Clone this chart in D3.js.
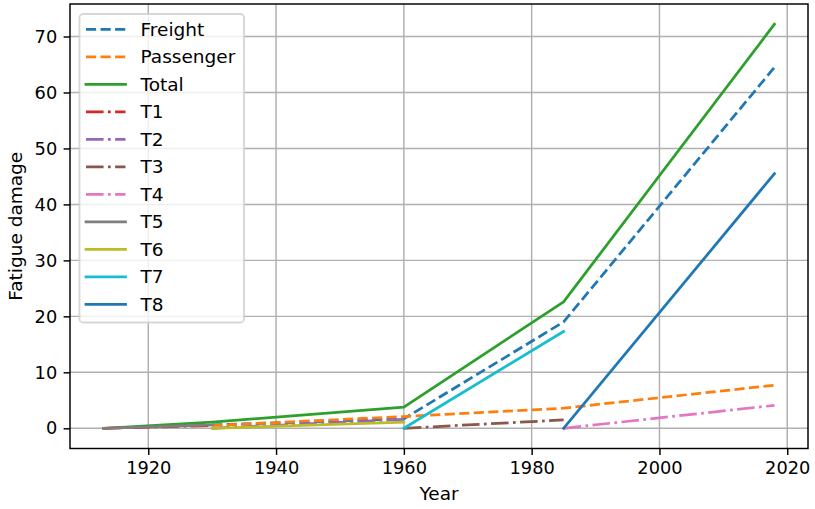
<!DOCTYPE html>
<html>
<head>
<meta charset="utf-8">
<script src="https://cdn.jsdelivr.net/npm/d3@7"></script>
<style>
  html, body { margin: 0; padding: 0; background: #fff; }
  svg { display: block; font-family: "DejaVu Sans", sans-serif; }
</style>
</head>
<body>
<svg id="chart" width="815" height="509"></svg>
<script>
// Survey years
const years = [1913, 1930, 1960, 1985, 2018];

// Cumulative fatigue damage (null = no value for that year)
const freight   = [null, 0.6, 1.7, 19.0, 64.5];
const passenger = [null, 0.5, 2.1, 3.6, 7.7];
const total     = [0.0, 1.1, 3.8, 22.6, 72.2];

// Contribution of each train type over its period of service
const t1 = [0.0, 0.5, null, null, null];
const t2 = [null, 0.0, 1.6, null, null];
const t3 = [null, null, 0.0, 1.5, null];
const t4 = [null, null, null, 0.0, 4.1];
const t5 = [0.0, 0.6, null, null, null];
const t6 = [null, 0.0, 1.1, null, null];
const t7 = [null, null, 0.0, 17.3, null];
const t8 = [null, null, null, 0.0, 45.5];

const xTicks = [1920, 1940, 1960, 1980, 2000, 2020];
const yTicks = [0, 10, 20, 30, 40, 50, 60, 70];

const PT = 1.83; // pixels per point
const DASHED = [5.55 * PT, 2.4 * PT];
const DASHDOT = [9.6 * PT, 2.4 * PT, 1.5 * PT, 2.4 * PT];

const series = [
  { name: "Freight",   values: freight,   color: "#1f77b4", dash: DASHED },
  { name: "Passenger", values: passenger, color: "#ff7f0e", dash: DASHED },
  { name: "Total",     values: total,     color: "#2ca02c", dash: null },
  { name: "T1",        values: t1,        color: "#d62728", dash: DASHDOT },
  { name: "T2",        values: t2,        color: "#9467bd", dash: DASHDOT },
  { name: "T3",        values: t3,        color: "#8c564b", dash: DASHDOT },
  { name: "T4",        values: t4,        color: "#e377c2", dash: DASHDOT },
  { name: "T5",        values: t5,        color: "#7f7f7f", dash: null },
  { name: "T6",        values: t6,        color: "#bcbd22", dash: null },
  { name: "T7",        values: t7,        color: "#17becf", dash: null },
  { name: "T8",        values: t8,        color: "#1f77b4", dash: null }
];

const W = 815, H = 509;
const margin = { left: 70, right: 7, top: 4, bottom: 60.5 };
const svg = d3.select("#chart");

// Axis limits with 5% padding on each side
const xExt = d3.extent(years);
const xPad = (xExt[1] - xExt[0]) * 0.05;
const allVals = series.flatMap(s => s.values).filter(v => v !== null);
const yExt = d3.extent(allVals);
const yPad = (yExt[1] - yExt[0]) * 0.05;

const x = d3.scaleLinear()
  .domain([xExt[0] - xPad, xExt[1] + xPad])
  .range([margin.left, W - margin.right]);
const y = d3.scaleLinear()
  .domain([yExt[0] - yPad, yExt[1] + yPad])
  .range([H - margin.bottom, margin.top]);

const plotL = margin.left, plotR = W - margin.right;
const plotT = margin.top, plotB = H - margin.bottom;

// Grid
const grid = svg.append("g").attr("stroke", "#b0b0b0").attr("stroke-width", 0.8 * PT);
grid.selectAll("line.gx").data(xTicks).join("line")
  .attr("x1", d => x(d)).attr("x2", d => x(d))
  .attr("y1", plotT).attr("y2", plotB);
grid.selectAll("line.gy").data(yTicks).join("line")
  .attr("x1", plotL).attr("x2", plotR)
  .attr("y1", d => y(d)).attr("y2", d => y(d));

// Data lines
const line = d3.line()
  .defined(d => d[1] !== null)
  .x(d => x(d[0]))
  .y(d => y(d[1]));

svg.append("clipPath").attr("id", "plotclip")
  .append("rect").attr("x", plotL).attr("y", plotT)
  .attr("width", plotR - plotL).attr("height", plotB - plotT);

svg.append("g").attr("clip-path", "url(#plotclip)")
  .selectAll("path").data(series).join("path")
  .attr("d", s => line(years.map((yr, i) => [yr, s.values[i]])))
  .attr("fill", "none")
  .attr("stroke", s => s.color)
  .attr("stroke-width", 1.5 * PT)
  .attr("stroke-linejoin", "round")
  .attr("stroke-linecap", s => s.dash ? "butt" : "square")
  .attr("stroke-dasharray", s => s.dash ? s.dash.join(",") : null);

// Axes
const tickLen = 3.5 * PT, tickPad = 3.5 * PT;
const xAxis = svg.append("g")
  .attr("transform", `translate(0,${plotB})`)
  .call(d3.axisBottom(x).tickValues(xTicks).tickFormat(d3.format("d"))
    .tickSize(tickLen).tickPadding(tickPad).tickSizeOuter(0));
const yAxis = svg.append("g")
  .attr("transform", `translate(${plotL},0)`)
  .call(d3.axisLeft(y).tickValues(yTicks).tickFormat(d3.format("d"))
    .tickSize(tickLen).tickPadding(tickPad).tickSizeOuter(0));

[xAxis, yAxis].forEach(g => {
  g.select(".domain").remove();
  g.selectAll(".tick line").attr("stroke", "#000").attr("stroke-width", 0.8 * PT);
  g.selectAll(".tick text").attr("fill", "#000")
    .attr("font-family", "DejaVu Sans").attr("font-size", "17.8px");
});

// Frame
svg.append("rect")
  .attr("x", plotL).attr("y", plotT)
  .attr("width", plotR - plotL).attr("height", plotB - plotT)
  .attr("fill", "none").attr("stroke", "#000").attr("stroke-width", 0.8 * PT);

// Axis titles
svg.append("text")
  .attr("x", (plotL + plotR) / 2).attr("y", 500)
  .attr("text-anchor", "middle").attr("font-size", "18.5px").attr("fill", "#000")
  .text("Year");
svg.append("text")
  .attr("transform", `translate(22,${(plotT + plotB) / 2}) rotate(-90)`)
  .attr("text-anchor", "middle").attr("font-size", "18.5px").attr("fill", "#000")
  .text("Fatigue damage");

// Legend
const lg = svg.append("g");
lg.append("rect")
  .attr("x", 79.5).attr("y", 14).attr("width", 164.5).attr("height", 308.5)
  .attr("rx", 3.6).attr("ry", 3.6)
  .attr("fill", "rgba(255,255,255,0.8)")
  .attr("stroke", "rgba(204,204,204,0.8)").attr("stroke-width", 1.0 * PT);

const rowY = i => 29.3 + i * 27.5;
const items = lg.selectAll("g.item").data(series).join("g")
  .attr("transform", (d, i) => `translate(0,${rowY(i)})`);
items.append("line")
  .attr("x1", 86).attr("x2", 125.5).attr("y1", 0).attr("y2", 0)
  .attr("stroke", s => s.color)
  .attr("stroke-width", 1.5 * PT)
  .attr("stroke-linecap", s => s.dash ? "butt" : "square")
  .attr("stroke-dasharray", s => s.dash ? s.dash.join(",") : null);
items.append("text")
  .attr("x", 140.5).attr("y", 0).attr("dy", "0.36em")
  .attr("font-size", "18.5px").attr("fill", "#000")
  .text(s => s.name);
</script>
</body>
</html>
